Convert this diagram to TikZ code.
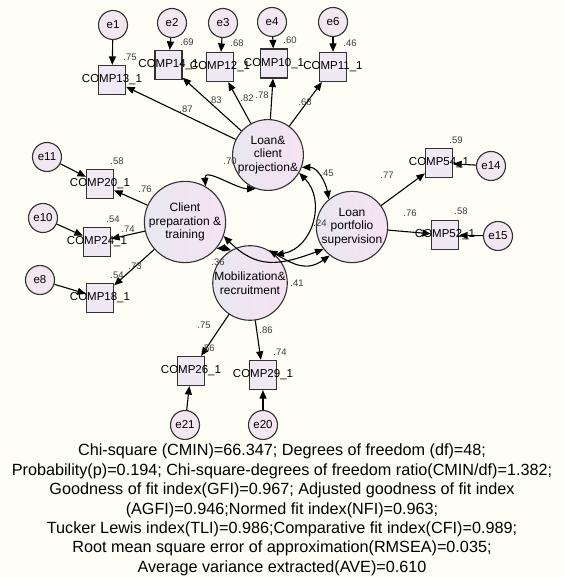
\documentclass[tikz,border=0pt]{standalone}
\usepackage{fontspec}
\setmainfont{Liberation Sans}
\usetikzlibrary{arrows.meta}
\definecolor{bgc}{RGB}{254,254,246}
\definecolor{boxc}{RGB}{240,232,242}
\definecolor{errc}{RGB}{242,230,240}
\definecolor{latl}{RGB}{232,232,240}
\definecolor{latr}{RGB}{246,226,242}
\definecolor{edgec}{RGB}{50,50,50}
\definecolor{numc}{RGB}{60,60,60}
\begin{document}
\begin{tikzpicture}[x=1pt,y=1pt,
  errnode/.style={circle,draw=edgec,line width=1.1pt,fill=errc,inner sep=0pt,minimum size=29pt,font=\fontsize{11.5}{13}\selectfont},
  latnode/.style={circle,draw=edgec,line width=1.1pt,left color=latl,right color=latr,inner sep=0pt,minimum size=58pt,align=center,font=\fontsize{12}{13.5}\selectfont},
  obsnode/.style={rectangle,draw=edgec,line width=1.2pt,fill=boxc,inner sep=0pt,minimum width=27pt,minimum height=29pt},
  obslabel/.style={font=\fontsize{11.5}{13}\selectfont,inner sep=0pt},
  num/.style={font=\fontsize{9.5}{11}\selectfont,text=numc,inner sep=0pt},
  arr/.style={-{Triangle[length=8.5pt,width=7pt]},line width=1.1pt,black},
  dbl/.style={{Triangle[length=8.5pt,width=7pt]}-{Triangle[length=8.5pt,width=7pt]},line width=1.1pt,black},
]
\fill[bgc] (0,0) rectangle (564,577);
\useasboundingbox (0,0) rectangle (564,577);

% latent variables
\node[latnode] (LC) at (268,422) {Loan\&\\client\\projection\&};
\node[latnode] (CP) at (185,355) {Client\\preparation \&\\training};
\node[latnode] (MR) at (250,294) {Mobilization\&\\recruitment};
\node[latnode,minimum size=59pt] (LP) at (352,350) {Loan\\portfolio\\supervision};

% observed variables
\node[obsnode] (b13) at (112,497) {};
\node[obsnode] (b14) at (168.5,512) {};
\node[obsnode] (b12) at (220,510) {};
\node[obsnode] (b10) at (274,513.5) {};
\node[obsnode] (b11) at (333,510) {};
\node[obsnode] (b20) at (100,393) {};
\node[obsnode] (b24) at (97,335) {};
\node[obsnode] (b18) at (100,279) {};
\node[obsnode] (b54) at (439,414) {};
\node[obsnode] (b52) at (445,342) {};
\node[obsnode] (b26) at (191,206) {};
\node[obsnode] (b29) at (263,202) {};

% error terms
\node[errnode] (e1) at (113,552) {e1};
\node[errnode] (e2) at (172,554) {e2};
\node[errnode] (e3) at (223,554) {e3};
\node[errnode] (e4) at (272,555) {e4};
\node[errnode] (e6) at (333,555) {e6};
\node[errnode] (e11) at (47,420) {e11};
\node[errnode] (e10) at (43,359) {e10};
\node[errnode] (e8) at (40,297) {e8};
\node[errnode] (e14) at (491,411) {e14};
\node[errnode] (e15) at (498,341) {e15};
\node[errnode] (e21) at (185,152) {e21};
\node[errnode] (e20) at (263,152) {e20};

% error arrows
\foreach \e/\b in {e1/b13,e2/b14,e3/b12,e4/b10,e6/b11,e11/b20,e10/b24,e8/b18,e14/b54,e15/b52,e21/b26,e20/b29}
  \draw[arr] (\e) -- (\b);

% loadings
\foreach \b in {b13,b14,b12,b10,b11} \draw[arr] (LC) -- (\b);
\foreach \b in {b20,b24,b18} \draw[arr] (CP) -- (\b);
\foreach \b in {b54,b52} \draw[arr] (LP) -- (\b);
\foreach \b in {b26,b29} \draw[arr] (MR) -- (\b);

% covariances
\draw[dbl] (CP.60) to[out=95,in=180] (LC.250);
\draw[dbl] (LC.340) to[out=0,in=100] (LP.130);
\draw[dbl] (LC.330) to[out=-45,in=10,looseness=1.15] (MR.48);
\draw[dbl] (CP.-40) to[bend left=10] (MR.120);
\draw[dbl] (CP.-20) to[out=-45,in=200,looseness=1.2] (LP.218);
\draw[dbl] (MR.60) to[out=-30,in=215,looseness=1.2] (LP.232);

% box labels
\foreach \b/\t in {b13/COMP13\_1,b14/COMP14\_1,b12/COMP12\_1,b10/COMP10\_1,b11/COMP11\_1,b20/COMP20\_1,b24/COMP24\_1,b18/COMP18\_1,b54/COMP54\_1,b52/COMP52\_1,b26/COMP26\_1,b29/COMP29\_1}
  \node[obslabel] at (\b) {\t};

% numbers
\node[num] at (130,520) {.75};
\node[num] at (187,535) {.69};
\node[num] at (237,534) {.68};
\node[num] at (290,537) {.60};
\node[num] at (350,534) {.46};
\node[num] at (186,468) {.87};
\node[num] at (215,477) {.83};
\node[num] at (247,479) {.82};
\node[num] at (262,482) {.78};
\node[num] at (305,475) {.68};
\node[num] at (117,416) {.58};
\node[num] at (113,358) {.54};
\node[num] at (117,302) {.54};
\node[num] at (145,388) {.76};
\node[num] at (128,348) {.74};
\node[num] at (135,311) {.73};
\node[num] at (456,437) {.59};
\node[num] at (461,366) {.58};
\node[num] at (387,402) {.77};
\node[num] at (410,364) {.76};
\node[num] at (204,252) {.75};
\node[num] at (208,229) {.56};
\node[num] at (266,247) {.86};
\node[num] at (280,225) {.74};
\node[num] at (230,416) {.70};
\node[num] at (327,404) {.45};
\node[num] at (320,354) {.24};
\node[num] at (218,315) {.36};
\node[num] at (297,294) {.41};

% fit statistics
\node[align=center,font=\fontsize{16.2}{19.4}\selectfont,inner sep=0pt] (fit) at (282,67) {Chi-square (CMIN)=66.347; Degrees of freedom (df)=48;\\
Probability(p)=0.194; Chi-square-degrees of freedom ratio(CMIN/df)=1.382;\\
Goodness of fit index(GFI)=0.967; Adjusted goodness of fit index\\
(AGFI)=0.946;Normed fit index(NFI)=0.963;\\
Tucker Lewis index(TLI)=0.986;Comparative fit index(CFI)=0.989;\\
Root mean square error of approximation(RMSEA)=0.035;\\
Average variance extracted(AVE)=0.610};
\end{tikzpicture}
\end{document}
